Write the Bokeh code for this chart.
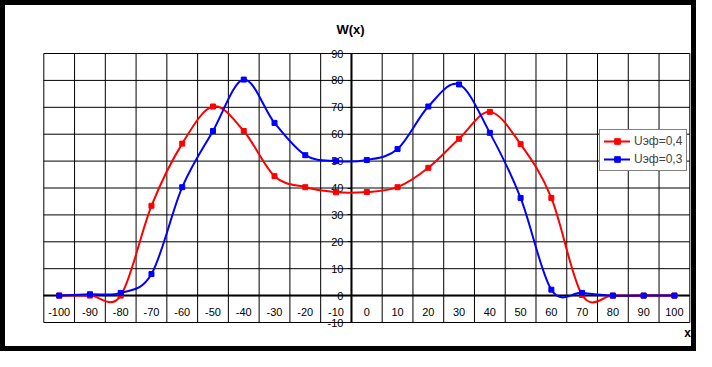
import numpy as np
from bokeh.plotting import figure
from bokeh.models import (Range1d, LinearAxis, FixedTicker, Legend, LegendItem,
                          ColumnDataSource)
from bokeh.core.properties import value
from bokeh.embed import file_html
from bokeh.resources import INLINE

# ---- data ----
x_values = [-100, -90, -80, -70, -60, -50, -40, -30, -20, -10, 0,
            10, 20, 30, 40, 50, 60, 70, 80, 90, 100]
u_04 = [0, 0, 0, 33.4, 56.5, 70.3, 61.2, 44.4, 40.3, 38.4, 38.5,
        40.3, 47.5, 58.3, 68.3, 56.3, 36.3, 0.2, 0, 0, 0]
u_03 = [0, 0.5, 1.0, 8.0, 40.3, 61.2, 80.3, 64.2, 52.2, 50.0, 50.4,
        54.5, 70.3, 78.5, 60.5, 36.3, 2.2, 1.0, 0, 0, 0]
series_names = ["Uэф=0,4", "Uэф=0,3"]
series_colors = ["#FF0000", "#0000FF"]
y_ticks = [-10, 0, 10, 20, 30, 40, 50, 60, 70, 80, 90]
x_tick_labels = {v: str(v) for v in x_values}
y_tick_labels = {v: str(v) for v in y_ticks}
cat_edges = [v - 5 for v in x_values] + [x_values[-1] + 5]
title_text = "W(x)"
x_label_text = "x"

FONT = "Liberation Sans"
W, H = 696, 351
# plot-area placement (pixels) in the canvas
PL, PR, PT, PB = 43.3, 689.3, 53.0, 322.0
sx = (PR - PL) / (cat_edges[-1] - cat_edges[0])
sy = (PB - PT) / (y_ticks[-1] - y_ticks[0])
x0r = cat_edges[0] - PL / sx
y1r = y_ticks[-1] + PT / sy


def px_x(px):
    return x0r + px / sx


def px_y(py):
    return y1r - py / sy


def smooth_segments(xs, ys):
    """Bezier control points (Catmull-Rom style, as Excel's smoothed line)."""
    xs = np.asarray(xs, float)
    ys = np.asarray(ys, float)
    n = len(xs)
    xp = np.concatenate([[xs[0]], xs, [xs[-1]]])
    yp = np.concatenate([[ys[0]], ys, [ys[-1]]])
    d = dict(
        x0=xs[:-1], y0=ys[:-1], x1=xs[1:], y1=ys[1:],
        cx0=xp[1:n] + (xp[2:n + 1] - xp[0:n - 1]) / 6.0,
        cy0=yp[1:n] + (yp[2:n + 1] - yp[0:n - 1]) / 6.0,
        cx1=xp[2:n + 1] - (xp[3:n + 2] - xp[1:n]) / 6.0,
        cy1=yp[2:n + 1] - (yp[3:n + 2] - yp[1:n]) / 6.0,
    )
    return ColumnDataSource(d)


p = figure(width=W, height=H, output_backend="svg", toolbar_location=None,
           title=None,
           x_range=Range1d(px_x(0), px_x(W)),
           y_range=Range1d(px_y(H), px_y(0)),
           x_axis_type=None, y_axis_type=None,
           min_border=0, min_border_left=0, min_border_right=0,
           min_border_top=0, min_border_bottom=0)
p.outline_line_color = "black"
p.outline_line_width = 9
p.background_fill_color = "white"
p.border_fill_color = "white"
p.xgrid.visible = False
p.ygrid.visible = False

# plot-area grid and border
nv = len(cat_edges)
p.segment(x0=cat_edges, y0=[y_ticks[0]] * nv, x1=cat_edges,
          y1=[y_ticks[-1]] * nv, line_color="black", line_width=1)
nh = len(y_ticks)
p.segment(x0=[cat_edges[0]] * nh, y0=y_ticks, x1=[cat_edges[-1]] * nh,
          y1=y_ticks, line_color="black", line_width=1)

# axes
xaxis = LinearAxis(fixed_location=0, ticker=FixedTicker(ticks=x_values),
                   bounds=(cat_edges[0], cat_edges[-1]),
                   major_label_overrides=x_tick_labels,
                   major_tick_line_color=None, minor_tick_line_color=None,
                   major_tick_in=0, major_tick_out=0,
                   axis_line_width=2, axis_line_color="black",
                   major_label_standoff=12, major_label_text_font=FONT,
                   major_label_text_font_size="11px",
                   major_label_text_color="black", level="underlay")
p.add_layout(xaxis, "below")

yaxis = LinearAxis(fixed_location=-5, ticker=FixedTicker(ticks=y_ticks),
                   bounds=(y_ticks[0], y_ticks[-1]),
                   major_label_overrides=y_tick_labels,
                   major_tick_line_color="black", minor_tick_line_color=None,
                   major_tick_in=0, major_tick_out=4,
                   axis_line_width=2, axis_line_color="black",
                   major_label_standoff=4, major_label_text_font=FONT,
                   major_label_text_font_size="11px",
                   major_label_text_color="black", level="underlay")
p.add_layout(yaxis, "left")

items = []
for name, ys, col in zip(series_names, [u_04, u_03], series_colors):
    src = smooth_segments(x_values, ys)
    rb = p.bezier(x0="x0", y0="y0", x1="x1", y1="y1", cx0="cx0", cy0="cy0",
                  cx1="cx1", cy1="cy1", source=src, line_color=col,
                  line_width=2, line_cap="round")
    rs = p.scatter(x_values, ys, marker="square", size=5, fill_color=col,
                   line_color=col)
    items.append(LegendItem(label=name, renderers=[rb, rs]))

legend = Legend(items=items, location=(599, H - 171),
                border_line_color="black",
                border_line_width=1, background_fill_color="white",
                background_fill_alpha=1, label_text_font=FONT,
                label_text_font_size="12px", glyph_width=26, glyph_height=14,
                label_height=14, padding=4, spacing=4, margin=0,
                label_standoff=4)
p.add_layout(legend)

p.text(x=[px_x(350)], y=[px_y(28.5)], text=[title_text], text_align="center",
       text_baseline="middle", text_font=value(FONT),
       text_font_style="bold", text_font_size="13px", text_color="black")
p.text(x=[px_x(687)], y=[px_y(332)], text=[x_label_text], text_align="center",
       text_baseline="middle", text_font=value(FONT),
       text_font_style="bold", text_font_size="12px", text_color="black")

open("out.html", "w").write(file_html(p, INLINE))
